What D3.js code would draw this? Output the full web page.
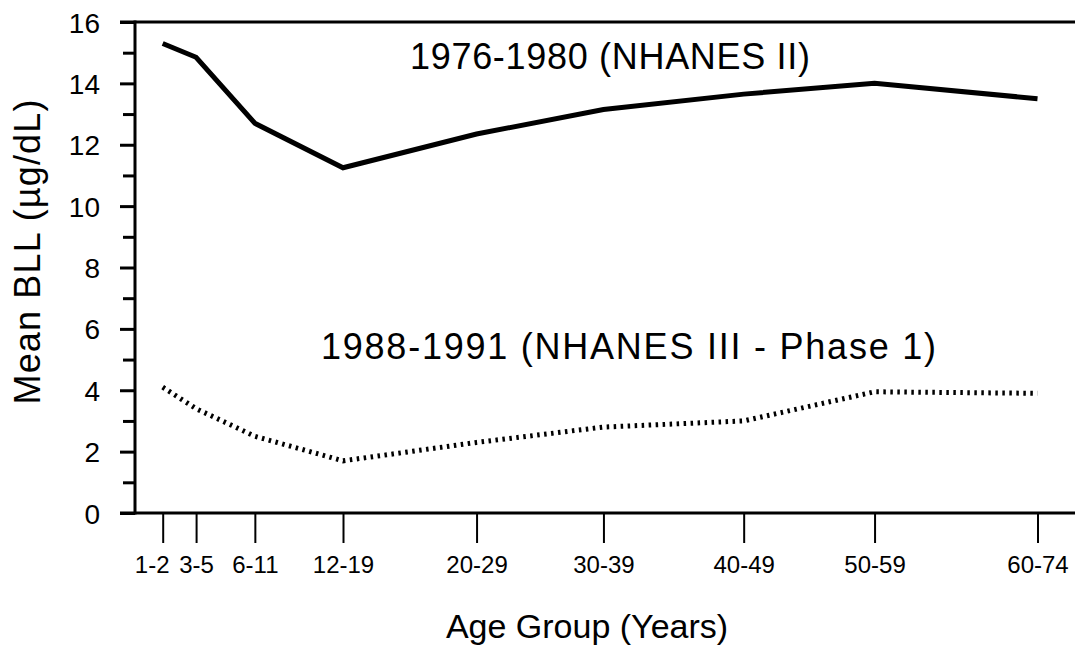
<!DOCTYPE html>
<html>
<head>
<meta charset="utf-8">
<script src="https://d3js.org/d3.v7.min.js"></script>
<style>
  body { margin: 0; background: #fff; }
  svg { display: block; }
  text { font-family: "Liberation Sans", Arial, sans-serif; fill: #000; }
</style>
</head>
<body>
<div id="chart"></div>
<script>
// data
var ageGroups = ['1-2', '3-5', '6-11', '12-19', '20-29', '30-39', '40-49', '50-59', '60-74']
var ageMid = [1.5, 4, 8.4, 15, 25, 34.5, 45, 54.8, 67]
var nhanes2 = [15.3, 14.85, 12.7, 11.25, 12.35, 13.15, 13.65, 14.0, 13.5]
var nhanes3 = [4.1, 3.4, 2.5, 1.7, 2.3, 2.8, 3.0, 3.95, 3.9]
var yMajor = [0, 2, 4, 6, 8, 10, 12, 14, 16]
var yMinor = [1, 3, 5, 7, 9, 11, 13, 15]

var width = 1075
var height = 646
var plotLeft = 135, plotTop = 22, plotBottom = 513

var svg = d3.select('#chart').append('svg')
  .attr('width', width)
  .attr('height', height)

var x = d3.scaleLinear()
  .domain([1.5, 67])
  .range([162.7, 1037.5])
var y = d3.scaleLinear()
  .domain([0, 16])
  .range([plotBottom, plotTop])

// y axis, major ticks with labels
var yAxis = svg.append('g')
  .attr('transform', 'translate(' + plotLeft + ',0)')
  .call(d3.axisLeft(y).tickValues(yMajor).tickSize(15).tickPadding(20))
yAxis.select('.domain').remove()
yAxis.selectAll('line').attr('stroke', '#000').attr('stroke-width', 3)
yAxis.selectAll('text').style('font-size', '28px').attr('dy', '0.36em')

// y axis minor ticks
var yMinAxis = svg.append('g')
  .attr('transform', 'translate(' + plotLeft + ',0)')
  .call(d3.axisLeft(y).tickValues(yMinor).tickSize(12).tickFormat(''))
yMinAxis.select('.domain').remove()
yMinAxis.selectAll('line').attr('stroke', '#000').attr('stroke-width', 3)

// x axis
var xAxis = svg.append('g')
  .attr('transform', 'translate(0,' + plotBottom + ')')
  .call(d3.axisBottom(x).tickValues(ageMid).tickSize(30).tickPadding(13)
    .tickFormat(function(d, i){ return ageGroups[i] }))
xAxis.select('.domain').remove()
xAxis.selectAll('line').attr('stroke', '#000').attr('stroke-width', 2)
xAxis.selectAll('text').style('font-size', '24px')
  .attr('dx', function(d, i){ return i == 0 ? -11 : 0 })

// frame lines: left, top, bottom
svg.append('line')
  .attr('x1', plotLeft).attr('y1', plotTop - 1.5)
  .attr('x2', plotLeft).attr('y2', plotBottom + 1.5)
  .attr('stroke', '#000').attr('stroke-width', 3)
svg.append('line')
  .attr('x1', 120).attr('y1', plotTop)
  .attr('x2', width).attr('y2', plotTop)
  .attr('stroke', '#000').attr('stroke-width', 3)
svg.append('line')
  .attr('x1', 120).attr('y1', plotBottom)
  .attr('x2', width).attr('y2', plotBottom)
  .attr('stroke', '#000').attr('stroke-width', 3)

var line = d3.line()
  .x(function(d){ return x(d[0]) })
  .y(function(d){ return y(d[1]) })

svg.append('path')
  .datum(d3.zip(ageMid, nhanes2))
  .attr('d', line)
  .attr('fill', 'none')
  .attr('stroke', '#000')
  .attr('stroke-width', 5)
  .attr('stroke-linejoin', 'miter')

svg.append('path')
  .datum(d3.zip(ageMid, nhanes3))
  .attr('d', line)
  .attr('fill', 'none')
  .attr('stroke', '#000')
  .attr('stroke-width', 5)
  .attr('stroke-dasharray', '2.5,4.5')

// series labels
svg.append('text')
  .attr('x', 410).attr('y', 69)
  .attr('textLength', 400).attr('lengthAdjust', 'spacing')
  .style('font-size', '36px')
  .text('1976-1980 (NHANES II)')
svg.append('text')
  .attr('x', 321).attr('y', 359)
  .attr('textLength', 615).attr('lengthAdjust', 'spacing')
  .style('font-size', '36px')
  .text('1988-1991 (NHANES III - Phase 1)')

// axis titles
svg.append('text')
  .attr('x', 587).attr('y', 638)
  .attr('text-anchor', 'middle')
  .style('font-size', '34px')
  .text('Age Group (Years)')
svg.append('text')
  .attr('transform', 'translate(40,252) rotate(-90)')
  .attr('text-anchor', 'middle')
  .attr('textLength', 305).attr('lengthAdjust', 'spacing')
  .style('font-size', '36px')
  .text('Mean BLL  (\u00b5g/dL)')
</script>
</body>
</html>
